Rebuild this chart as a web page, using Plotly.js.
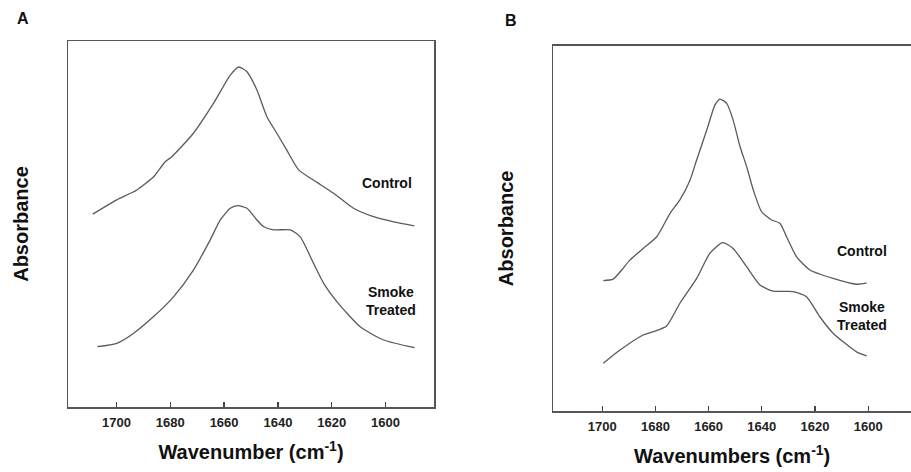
<!DOCTYPE html>
<html>
<head>
<meta charset="utf-8">
<script src="https://cdn.plot.ly/plotly-3.0.1.min.js"></script>
<style>html,body{margin:0;padding:0;background:#fff;}#chart{width:911px;height:472px;}</style>
</head>
<body>
<div id="chart"></div>
<script>
// Panel A (wavenumber, relative absorbance)
const aControlX = [1708.8,1699.9,1692.4,1686.2,1681.9,1679.4,1671.4,1663.9,1657.7,1654.5,1651.5,1647.8,1644.1,1640.4,1636.7,1632.3,1626.8,1619.3,1611.9,1604.5,1597.0,1589.3];
const aControlY = [0.527,0.566,0.593,0.629,0.670,0.684,0.748,0.830,0.907,0.929,0.916,0.866,0.793,0.748,0.702,0.648,0.620,0.584,0.543,0.520,0.506,0.495];
const aSmokeX = [1707.1,1699.9,1693.7,1686.2,1678.8,1671.4,1665.2,1661.4,1657.7,1654.9,1651.5,1647.8,1645.4,1641.6,1635.4,1631.7,1626.8,1623.0,1618.1,1609.4,1600.7,1589.2];
const aSmokeY = [0.165,0.174,0.201,0.247,0.301,0.374,0.456,0.511,0.543,0.550,0.543,0.511,0.493,0.484,0.484,0.465,0.393,0.338,0.288,0.219,0.183,0.162];
// Panel B
const bControlX = [1699.6,1695.9,1692.7,1689.6,1684.6,1679.5,1674.5,1670.8,1667.0,1664.5,1660.7,1657.6,1655.7,1653.2,1650.8,1648.2,1645.7,1643.2,1640.1,1636.3,1633.2,1630.7,1626.9,1621.9,1613.2,1604.4,1600.6];
const bControlY = [0.357,0.361,0.386,0.413,0.445,0.477,0.541,0.578,0.632,0.687,0.769,0.838,0.854,0.842,0.797,0.724,0.669,0.605,0.546,0.523,0.514,0.477,0.422,0.386,0.363,0.347,0.351];
const bSmokeX = [1699.6,1693.3,1684.6,1680.8,1675.8,1670.8,1664.5,1659.5,1654.7,1650.8,1645.7,1640.7,1635.7,1628.2,1623.2,1618.2,1613.2,1604.4,1600.6];
const bSmokeY = [0.131,0.167,0.208,0.217,0.233,0.295,0.363,0.432,0.461,0.445,0.395,0.345,0.328,0.327,0.313,0.258,0.213,0.162,0.151];
const tickVals = [1700,1680,1660,1640,1620,1600];
const tickText = ["1700","1680","1660","1640","1620","1600"];

const FONT = "Arial, 'Liberation Sans', sans-serif";
const lineStyle = {color:'#5a5a5a', width:1.3, shape:'spline', smoothing:0.6};

const traces = [
  {x:aControlX, y:aControlY, xaxis:'x', yaxis:'y', mode:'lines', line:lineStyle, name:'Control'},
  {x:aSmokeX, y:aSmokeY, xaxis:'x', yaxis:'y', mode:'lines', line:lineStyle, name:'Smoke Treated'},
  {x:bControlX, y:bControlY, xaxis:'x2', yaxis:'y2', mode:'lines', line:lineStyle, name:'Control'},
  {x:bSmokeX, y:bSmokeY, xaxis:'x2', yaxis:'y2', mode:'lines', line:lineStyle, name:'Smoke Treated'}
];

const xCommon = {
  tickmode:'array', tickvals:tickVals, ticktext:tickText,
  ticks:'inside', ticklen:5, tickwidth:1.3, tickcolor:'#444',
  showline:true, linecolor:'#555', linewidth:1.5, showgrid:false, zeroline:false,
  tickfont:{family:FONT, size:13, color:'#222', weight:'bold'},
  ticklabelstandoff:3,
  automargin:false
};
const yCommon = {
  range:[0,1], showticklabels:false, ticks:'', showgrid:false, zeroline:false,
  showline:true, linecolor:'#555', linewidth:1.5, automargin:false
};
const titleFont = {family:FONT, size:20, color:'#111', weight:'bold'};
const annFont = {family:FONT, size:14, color:'#111', weight:'bold'};

const layout = {
  width:911, height:472, margin:{l:0,r:0,t:0,b:0},
  paper_bgcolor:'#ffffff', plot_bgcolor:'#ffffff', showlegend:false,
  xaxis: Object.assign({}, xCommon, {domain:[68/911, 434/911], range:[1718,1582], mirror:true, anchor:'y',
    title:{text:'Wavenumber (cm<sup>-1</sup>)', font:titleFont, standoff:16}}),
  yaxis: Object.assign({}, yCommon, {domain:[1-407/472, 1-41/472], mirror:true, anchor:'x',
    title:{text:'Absorbance', font:titleFont, standoff:32}}),
  xaxis2: Object.assign({}, xCommon, {domain:[553.3/911, 1], range:[1718.4,1583.9], mirror:true, anchor:'y2',
    title:{text:'Wavenumbers (cm<sup>-1</sup>)', font:titleFont, standoff:16}}),
  yaxis2: Object.assign({}, yCommon, {domain:[1-411/472, 1-45.7/472], mirror:false, anchor:'x2',
    title:{text:'Absorbance', font:titleFont, standoff:33}}),
  annotations: [
    {text:'A', xref:'paper', yref:'paper', x:23/911, y:1-18/472, xanchor:'center', yanchor:'middle', showarrow:false, font:{family:FONT,size:16,color:'#111',weight:'bold'}},
    {text:'B', xref:'paper', yref:'paper', x:511/911, y:1-20/472, xanchor:'center', yanchor:'middle', showarrow:false, font:{family:FONT,size:16,color:'#111',weight:'bold'}},
    {text:'Control', xref:'paper', yref:'paper', x:387/911, y:1-183/472, xanchor:'center', yanchor:'middle', showarrow:false, font:annFont},
    {text:'Smoke<br>Treated', xref:'paper', yref:'paper', x:391/911, y:1-300.5/472, xanchor:'center', yanchor:'middle', showarrow:false, font:annFont},
    {text:'Control', xref:'paper', yref:'paper', x:862/911, y:1-250.7/472, xanchor:'center', yanchor:'middle', showarrow:false, font:annFont},
    {text:'Smoke<br>Treated', xref:'paper', yref:'paper', x:861.5/911, y:1-315.5/472, xanchor:'center', yanchor:'middle', showarrow:false, font:annFont}
  ]
};

Plotly.newPlot('chart', traces, layout, {staticPlot:true, displayModeBar:false});
</script>
</body>
</html>
